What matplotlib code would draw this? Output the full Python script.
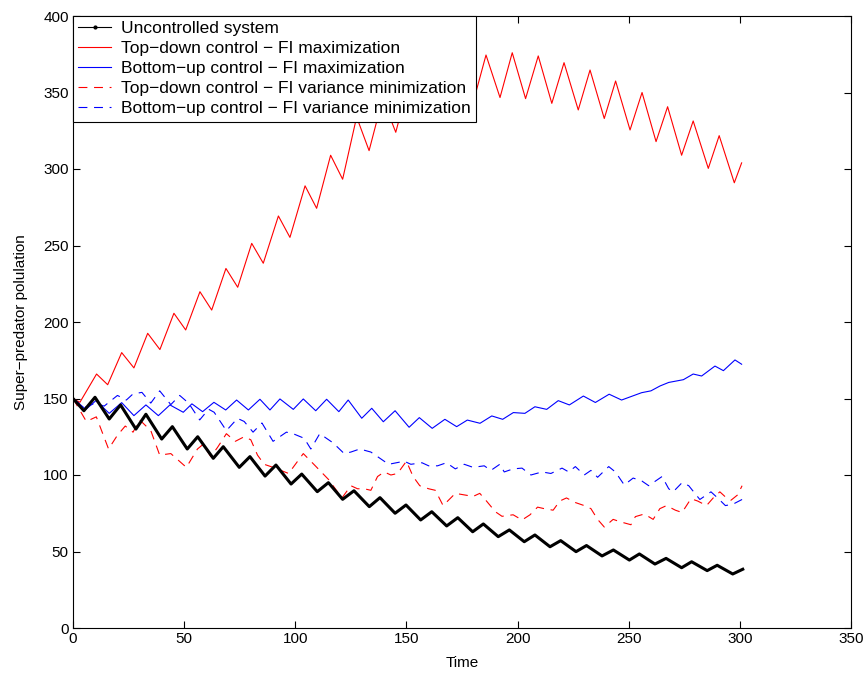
import matplotlib
matplotlib.use('Agg')
import matplotlib.pyplot as plt
from matplotlib.lines import Line2D
import numpy as np

plt.rcParams['font.family'] = ['Liberation Sans', 'DejaVu Sans']

t_unctrl = [0, 4.9, 9.9, 16.3, 21.4, 28.3, 32.8, 39.9, 44.7, 51.4, 56.1, 63.1, 67.6,
            74.8, 79.6, 86.4, 91.3, 98.1, 102.9, 109.9, 114.9, 121.3, 126.4, 133.3,
            138.1, 144.9, 149.8, 156.4, 161.4, 168.1, 173.1, 179.8, 184.6, 191.3,
            196.3, 203, 207.8, 214.6, 219.4, 226.3, 231, 238, 243.1, 250.3, 254.8,
            261.8, 266.8, 273.8, 278.3, 285.3, 289.8, 296.8, 301.3]
y_unctrl = [150, 142, 150.8, 136.6, 145.8, 130, 139.7, 123.5, 131.6, 117, 125, 110.9,
            118.5, 105, 112, 99.3, 106.5, 94.1, 100.6, 89.1, 95, 84.1, 89.7, 79.3, 85.2,
            75, 80.4, 70.6, 76, 66.7, 72.1, 62.9, 68, 59.7, 64.1, 56.4, 60.8, 53.1, 57.1,
            49.9, 53.9, 47.1, 51, 44.4, 48.4, 41.8, 45.5, 39.4, 43.3, 37.5, 41, 35.3, 38.4]

# Top-down control - FI maximization
t_td_max = [0, 3.1, 10.6, 15.6, 21.9, 27.4, 33.6, 39.1, 45.4, 50.7, 57.1, 62.4, 68.8,
            74.1, 80.4, 85.6, 92.4, 97.6, 104.4, 109.6, 115.9, 121.3, 127.6, 133.2,
            139.3, 145.2, 151, 157, 162.7, 168.6, 174.4, 180.3, 185.8, 192.1, 197.6,
            203.6, 209.3, 215.4, 220.9, 227.3, 232.6, 239, 244.1, 250.6, 256, 262.3,
            267.5, 273.8, 279, 285.8, 290.7, 297.5, 300.8]
y_td_max = [150, 147.5, 166, 159, 180, 170, 192.6, 182, 205.7, 194.8, 219.8, 207.8, 235,
            222.7, 251.4, 238.4, 269.3, 255.3, 289, 274.3, 309, 293.3, 334, 312, 346, 324,
            356, 334, 364, 341, 370, 345, 374.5, 346.7, 376, 346, 373.9, 342.9, 369.5,
            338.6, 364.7, 333, 357.5, 325.5, 350, 317.9, 340.7, 309, 331.4, 300.4, 321.8,
            291, 304]

# Bottom-up control - FI maximization
t_bu_max = [0, 5.8, 10.3, 16.3, 21.9, 27.4, 32.8, 38.4, 43.6, 49.6, 53.5, 58.3, 63.4,
            68.7, 73.6, 78.9, 84.1, 88.6, 93.1, 99.1, 103.6, 109.2, 114.1, 119.6, 123.8,
            129.9, 134.4, 139.6, 144.9, 151.2, 155.8, 161.6, 167.3, 172.6, 177.4, 183.1,
            188.4, 193.3, 198.1, 203.3, 207.8, 213.1, 218.3, 223.3, 229.6, 235, 241.2,
            246.8, 255.8, 260, 264.1, 268, 274.6, 279, 282.8, 288.8, 292.6, 297.8, 300.8]
y_bu_max = [150, 142.9, 148.6, 140.3, 147.3, 138.8, 145.8, 138.8, 145.8, 141, 146.5,
            141.4, 147.5, 142.5, 149, 142.5, 149.5, 142.5, 149.7, 142.9, 149.7, 142,
            149.5, 141.4, 149, 137.1, 143.6, 134.8, 142, 131.2, 137.5, 130.5, 136.4,
            131.6, 135.9, 133.8, 138.6, 136.4, 140.8, 140.3, 144.6, 142.9, 148.6, 145.8,
            151.6, 147.4, 152.8, 149, 153.8, 155, 158.2, 160.5, 162.3, 166, 164.7, 171.2,
            168.2, 175.2, 172.4]

# Top-down control - FI variance minimization
t_td_var = [0, 6, 10.5, 16, 20, 23.5, 27, 30, 35, 39, 44, 51, 56, 58.5, 62, 65, 69, 73,
            77, 80, 83, 86, 90, 97, 103.6, 109, 115, 121, 125, 128, 131, 134, 137, 140,
            143, 146, 150, 153, 156, 160, 163, 166.5, 172, 176, 180, 183, 186, 190, 193,
            198, 202, 205.6, 209, 212, 216, 219, 222, 226, 230, 233, 236, 239, 243, 246,
            251, 253, 257, 261, 264, 267, 271, 274, 278, 281, 285, 288, 291, 294, 296,
            299, 301]
y_td_var = [150, 135, 138, 117, 126, 132, 128, 136, 129, 113, 114, 105, 117, 120, 112,
            118, 127, 122, 125, 123, 113, 107, 105, 101, 114, 106, 97, 85, 93, 91, 91, 90,
            99, 102, 100, 101, 109, 99, 93, 91, 90, 80, 88, 87, 86, 88, 83, 76, 73, 74,
            70.6, 74, 79, 78, 77, 83, 85, 82, 80, 78, 71, 66, 71, 69.5, 67.5, 72.8, 74.5,
            71, 78, 80, 77, 75.5, 84.5, 83, 80, 85, 89, 85, 83.5, 87, 93]

# Bottom-up control - FI variance minimization
t_bu_var = [0, 5, 10, 14, 20, 24, 27, 31, 35, 39, 44, 48, 52, 57, 61, 63.5, 69, 74, 77,
            81, 85, 90, 96, 99, 104, 107, 111, 117, 122, 125, 129, 134, 137, 142, 149,
            152, 157, 160, 164, 168, 172, 176, 180, 185, 188, 192, 194, 198, 202, 206,
            211, 215, 220, 223, 226, 230, 233, 236, 241, 244, 248, 252, 256, 259, 262,
            265, 268, 270, 274, 277, 282, 287, 290, 293.5, 297, 301]
y_bu_var = [150, 144, 147, 145, 152, 149, 153, 154, 147, 155, 146, 152, 147, 136, 143,
            141, 129, 137, 135, 128, 134, 122, 128, 127, 124, 117, 127, 121, 114, 115,
            117, 115, 112, 107, 109, 107, 108, 106, 106, 108, 104, 107, 105, 106, 103,
            107, 102, 104, 104.5, 100, 102, 101, 104.5, 102, 105.5, 100, 103, 98.5,
            105.5, 102, 93.5, 98, 96, 93, 96, 99, 91, 89, 95, 93, 84, 89, 85, 80, 81, 84]

labels = ['Uncontrolled system',
          'Top\u2212down control \u2212 FI maximization',
          'Bottom\u2212up control \u2212 FI maximization',
          'Top\u2212down control \u2212 FI variance minimization',
          'Bottom\u2212up control \u2212 FI variance minimization']


def plot_population():
    """Draw the super-predator population curves"""
    fig = plt.figure(figsize=(8.67, 6.73), dpi=100)
    ax = fig.add_axes([73/867, 1 - 628/673, 778/867, 612/673])

    lw = 0.8
    dash = (8, 6)

    ax.plot(t_unctrl, y_unctrl, color='k', lw=2.2, solid_joinstyle='round', zorder=5)
    ax.plot(t_td_max, y_td_max, color='r', lw=lw)
    ax.plot(t_bu_max, y_bu_max, color='b', lw=lw)
    ax.plot(t_td_var, y_td_var, color='r', lw=lw, dashes=dash)
    ax.plot(t_bu_var, y_bu_var, color='b', lw=lw, dashes=dash)

    handles = [Line2D([], [], color='k', lw=lw, marker='.', markersize=4),
               Line2D([], [], color='r', lw=lw),
               Line2D([], [], color='b', lw=lw),
               Line2D([], [], color='r', lw=lw, dashes=dash),
               Line2D([], [], color='b', lw=lw, dashes=dash)]
    leg = ax.legend(handles, labels, loc='upper left', fontsize=12.5, fancybox=False,
                    framealpha=1, edgecolor='k', borderaxespad=0, borderpad=0.3,
                    labelspacing=0.28, handlelength=1.9, handletextpad=0.55)
    leg.get_frame().set_linewidth(0.8)
    leg.set_zorder(10)

    ax.set_xlim(0, 350)
    ax.set_ylim(0, 400)
    ax.set_xticks(np.arange(0, 351, 50))
    ax.set_yticks(np.arange(0, 401, 50))
    ax.tick_params(direction='in', top=True, right=True, length=5, width=0.8,
                   labelsize=11, pad=3)
    for s in ax.spines.values():
        s.set_linewidth(0.8)

    ax.set_xlabel('Time', fontsize=11, labelpad=7)
    ax.set_ylabel('Super\u2212predator polulation', fontsize=11, labelpad=11)

    plt.savefig('out.png', dpi=100)
    plt.close('all')


if __name__ == '__main__':
    plot_population()
